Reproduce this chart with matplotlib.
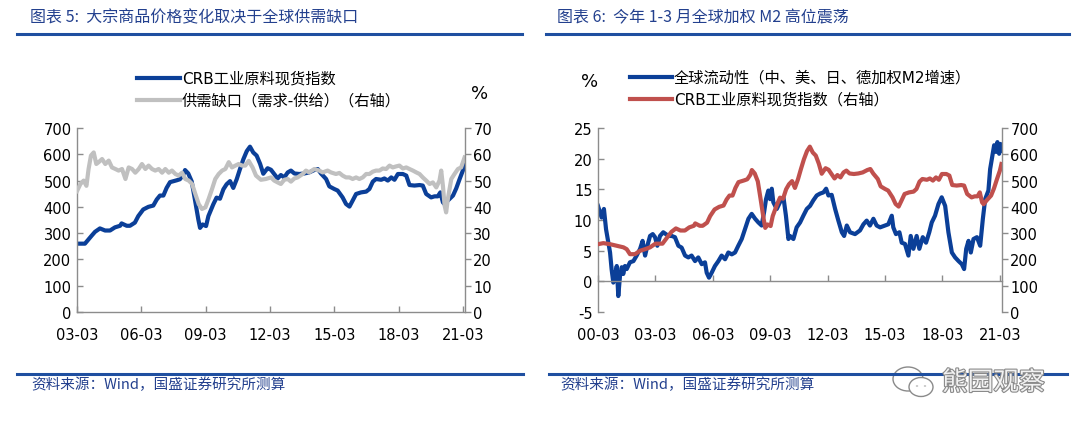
import matplotlib
matplotlib.use("Agg")
import matplotlib.pyplot as plt
import matplotlib.patheffects as pe
from matplotlib.patches import Ellipse, Circle

plt.rcParams['font.family'] = ['DejaVu Sans', 'Noto Sans CJK SC']
plt.rcParams['axes.unicode_minus'] = False

# ==============================
# DATA (decimal years)
# ==============================
crb_t = [2000.17, 2000.45, 2000.80, 2001.15, 2001.50, 2001.67, 2001.84, 2002.10, 2002.37, 2002.63, 2002.89,
         2003.17, 2003.54, 2003.85, 2004.01, 2004.24, 2004.48, 2004.71, 2004.94, 2005.18, 2005.25, 2005.49,
         2005.64, 2005.87, 2006.03, 2006.26, 2006.50, 2006.73, 2006.89, 2007.04, 2007.20, 2007.35, 2007.51,
         2007.82, 2007.97, 2008.13, 2008.21, 2008.36, 2008.52, 2008.67, 2008.83, 2008.91, 2009.03, 2009.19,
         2009.30, 2009.53, 2009.68, 2009.84, 2010.00, 2010.15, 2010.31, 2010.46, 2010.62, 2010.77, 2010.93,
         2011.09, 2011.24, 2011.39, 2011.55, 2011.71, 2011.86, 2012.06, 2012.22, 2012.37, 2012.53, 2012.68,
         2012.84, 2013.00, 2013.15, 2013.31, 2013.54, 2013.77, 2014.00, 2014.24, 2014.40, 2014.55, 2014.79,
         2014.94, 2015.17, 2015.33, 2015.56, 2015.72, 2015.88, 2016.03, 2016.19, 2016.42, 2016.66, 2016.81,
         2016.97, 2017.12, 2017.36, 2017.51, 2017.67, 2017.83, 2017.98, 2018.14, 2018.37, 2018.53, 2018.68,
         2018.91, 2019.15, 2019.30, 2019.46, 2019.69, 2019.85, 2020.00, 2020.12, 2020.24, 2020.32, 2020.47,
         2020.71, 2020.86, 2021.02, 2021.17, 2021.25]
crb_v = [258, 262, 258, 252, 246, 239, 220, 220, 233, 239, 246,
         260, 260, 290, 305, 318, 310, 310, 322, 328, 337, 328,
         328, 340, 365, 390, 400, 405, 428, 443, 443, 472, 494,
         501, 505, 522, 540, 527, 497, 428, 352, 320, 333, 327,
         365, 410, 435, 431, 467, 486, 498, 472, 505, 543, 581,
         612, 629, 607, 595, 564, 526, 547, 541, 525, 508, 521,
         512, 531, 538, 527, 525, 527, 531, 540, 544, 527, 506,
         478, 468, 462, 436, 411, 401, 424, 449, 455, 458, 468,
         496, 506, 503, 508, 500, 512, 503, 525, 525, 519, 483,
         481, 483, 481, 449, 436, 440, 440, 455, 417, 410, 424,
         443, 470, 506, 538, 563]

gap_t = [2003.17, 2003.33, 2003.48, 2003.61, 2003.71, 2003.82, 2003.95, 2004.07, 2004.18, 2004.34, 2004.49,
         2004.65, 2004.80, 2004.96, 2005.11, 2005.27, 2005.43, 2005.58, 2005.74, 2005.89, 2006.05, 2006.20,
         2006.36, 2006.51, 2006.67, 2006.82, 2006.98, 2007.14, 2007.29, 2007.45, 2007.60, 2007.76, 2007.91,
         2008.07, 2008.22, 2008.38, 2008.54, 2008.69, 2008.85, 2009.00, 2009.16, 2009.31, 2009.47, 2009.62,
         2009.78, 2009.94, 2010.09, 2010.25, 2010.40, 2010.56, 2010.71, 2010.87, 2011.02, 2011.18, 2011.36,
         2011.52, 2011.75, 2011.98, 2012.22, 2012.37, 2012.53, 2012.68, 2012.84, 2013.00, 2013.15, 2013.31,
         2013.46, 2013.70, 2013.85, 2014.00, 2014.24, 2014.47, 2014.63, 2014.86, 2015.02, 2015.25, 2015.41,
         2015.56, 2015.72, 2015.88, 2016.03, 2016.19, 2016.34, 2016.50, 2016.66, 2016.81, 2016.97, 2017.12,
         2017.28, 2017.43, 2017.59, 2017.75, 2017.90, 2018.06, 2018.21, 2018.37, 2018.53, 2018.68, 2018.84,
         2019.00, 2019.15, 2019.30, 2019.46, 2019.62, 2019.77, 2019.93, 2020.08, 2020.16, 2020.24, 2020.32,
         2020.39, 2020.47, 2020.63, 2020.78, 2020.94, 2021.09, 2021.25]
gap_v = [46.0, 48.7, 50.0, 48.0, 54.4, 59.5, 60.7, 56.3, 57.0, 58.2, 56.3,
         57.6, 55.0, 54.4, 53.8, 54.4, 50.6, 55.0, 54.4, 53.0, 54.4, 56.3,
         54.4, 55.7, 54.4, 53.8, 54.4, 53.0, 54.4, 53.0, 53.8, 52.5, 51.9,
         53.0, 50.6, 50.0, 48.7, 44.9, 41.0, 39.2, 39.8, 43.0, 46.8, 50.6,
         52.5, 53.8, 54.4, 57.0, 55.0, 55.7, 56.3, 55.7, 55.7, 57.5, 55.0,
         51.9, 50.3, 50.6, 51.2, 50.0, 49.3, 48.7, 50.3, 50.6, 49.6, 50.8,
         51.2, 52.5, 53.8, 53.1, 54.4, 53.8, 53.1, 53.8, 53.1, 52.5, 52.9,
         51.9, 51.2, 51.2, 50.6, 51.2, 50.6, 51.2, 52.5, 52.5, 53.4, 53.8,
         53.8, 54.6, 54.4, 55.7, 55.0, 55.4, 55.7, 54.6, 55.0, 54.4, 53.8,
         53.1, 52.5, 51.2, 50.0, 48.7, 49.3, 47.4, 50.0, 53.8, 48.0, 40.4,
         37.9, 43.0, 50.6, 52.5, 54.4, 55.0, 58.8]

m2_t = [2000.17, 2000.27, 2000.36, 2000.48, 2000.59, 2000.71, 2000.80, 2000.88, 2000.97, 2001.06, 2001.15,
        2001.23, 2001.32, 2001.41, 2001.49, 2001.58, 2001.67, 2001.84, 2002.02, 2002.19, 2002.37, 2002.50,
        2002.63, 2002.75, 2002.89, 2003.03, 2003.15, 2003.27, 2003.41, 2003.58, 2003.72, 2003.85, 2004.02,
        2004.19, 2004.37, 2004.54, 2004.72, 2004.89, 2005.06, 2005.24, 2005.41, 2005.59, 2005.76, 2005.85,
        2005.97, 2006.11, 2006.28, 2006.46, 2006.63, 2006.81, 2006.98, 2007.16, 2007.33, 2007.50, 2007.68,
        2007.85, 2008.03, 2008.20, 2008.38, 2008.55, 2008.72, 2008.85, 2008.95, 2009.07, 2009.16, 2009.25,
        2009.33, 2009.51, 2009.68, 2009.86, 2009.99, 2010.12, 2010.20, 2010.38, 2010.55, 2010.73, 2010.90,
        2011.08, 2011.25, 2011.42, 2011.60, 2011.77, 2011.95, 2012.09, 2012.21, 2012.38, 2012.56, 2012.73,
        2012.91, 2013.03, 2013.17, 2013.34, 2013.60, 2013.86, 2014.04, 2014.21, 2014.38, 2014.56, 2014.73,
        2014.91, 2015.17, 2015.34, 2015.52, 2015.60, 2015.74, 2015.92, 2016.04, 2016.21, 2016.39, 2016.51,
        2016.65, 2016.82, 2016.96, 2017.14, 2017.31, 2017.48, 2017.61, 2017.78, 2017.96, 2018.13, 2018.31,
        2018.48, 2018.66, 2018.83, 2019.01, 2019.18, 2019.30, 2019.41, 2019.53, 2019.65, 2019.79, 2019.97,
        2020.14, 2020.28, 2020.40, 2020.57, 2020.66, 2020.78, 2020.87, 2020.97, 2021.04, 2021.13, 2021.20,
        2021.27]
m2_v = [12.3, 11.3, 10.4, 11.8, 8.5, 6.3, 4.7, 2.0, -0.2, 0.9, 2.5,
        -2.4, 0.9, 2.3, 1.2, 2.5, 2.0, 3.1, 3.3, 4.2, 5.3, 6.6,
        4.2, 5.8, 7.4, 7.7, 7.2, 5.8, 7.4, 8.0, 7.7, 7.4, 7.4,
        7.2, 5.8, 5.5, 4.2, 3.9, 4.2, 3.3, 3.9, 2.8, 3.1, 1.4,
        0.6, 1.4, 2.5, 3.3, 4.2, 3.6, 4.7, 4.4, 4.7, 5.8, 6.9,
        8.5, 10.2, 11.0, 10.2, 9.6, 9.1, 11.3, 13.4, 14.8, 13.4, 15.1,
        12.9, 11.8, 12.9, 13.7, 10.7, 6.9, 7.4, 6.9, 8.8, 9.6, 10.7,
        11.8, 12.3, 13.2, 14.0, 14.3, 14.5, 15.1, 14.0, 14.1, 11.8, 9.9,
        8.0, 7.4, 9.1, 8.0, 7.7, 8.3, 9.3, 9.9, 9.1, 10.2, 9.1,
        8.8, 9.1, 9.3, 10.7, 8.8, 7.7, 8.0, 6.3, 6.1, 4.2, 7.4,
        5.3, 7.4, 5.3, 7.2, 6.3, 8.0, 9.6, 10.7, 12.6, 13.7, 12.3,
        8.0, 4.7, 3.9, 3.3, 2.8, 2.0, 5.3, 6.6, 4.7, 6.9, 7.2,
        5.8, 10.2, 13.4, 14.8, 18.3, 20.5, 22.2, 21.1, 22.7, 20.8, 22.4,
        21.3]

left_ticks = [2003.17, 2006.17, 2009.17, 2012.17, 2015.17, 2018.17, 2021.17]
left_labels = ["03-03", "06-03", "09-03", "12-03", "15-03", "18-03", "21-03"]
right_ticks = [2000.17, 2003.17, 2006.17, 2009.17, 2012.17, 2015.17, 2018.17, 2021.17]
right_labels = ["00-03", "03-03", "06-03", "09-03", "12-03", "15-03", "18-03", "21-03"]

title_left = "图表 5:  大宗商品价格变化取决于全球供需缺口"
title_right = "图表 6:  今年 1-3 月全球加权 M2 高位震荡"
source_text = "资料来源：Wind，国盛证券研究所测算"
leg_left = ["CRB工业原料现货指数", "供需缺口（需求-供给）（右轴）"]
leg_right = ["全球流动性（中、美、日、德加权M2增速）", "CRB工业原料现货指数（右轴）"]

# ==============================
# STYLE
# ==============================
BLUE = "#0B3F98"
GRAY = "#C0C0C0"
RED = "#C0504D"
NAVY = "#23408E"
RULE = "#1F4FA0"
SPINE = "#8C8C8C"
W, H = 1080, 435


def fx(px):
    return px / W


def fy(py):
    return 1 - py / H


def style_axis(ax):
    for s in ax.spines.values():
        s.set_color(SPINE)
        s.set_linewidth(1.0)
    ax.spines['top'].set_visible(False)
    ax.tick_params(axis='both', colors=SPINE, labelcolor='black', labelsize=10.5,
                   length=4, width=1.0)


fig = plt.figure(figsize=(10.8, 4.35), dpi=100)

# ==============================
# LEFT CHART
# ==============================
ax1 = fig.add_axes([fx(77), fy(313), fx(465 - 77), (313 - 129) / H])
ax1b = ax1.twinx()
ax1.plot(crb_t, crb_v, color=BLUE, lw=3.0, solid_joinstyle='round')
ax1b.plot(gap_t, gap_v, color=GRAY, lw=3.0, solid_joinstyle='round')
ax1.set_xlim(2003.17, 2021.27)
ax1.set_ylim(0, 700)
ax1b.set_ylim(0, 70)
ax1.set_yticks(range(0, 701, 100))
ax1b.set_yticks(range(0, 71, 10))
ax1.set_xticks(left_ticks)
ax1.set_xticklabels(left_labels)
for a in (ax1, ax1b):
    style_axis(a)
ax1.spines['right'].set_visible(False)
ax1b.spines['left'].set_visible(False)
ax1b.spines['bottom'].set_visible(False)
ax1.tick_params(axis='y', direction='in', pad=4)
ax1b.tick_params(axis='y', direction='out', pad=2)
ax1.tick_params(axis='x', direction='in', pad=11)

# ==============================
# RIGHT CHART
# ==============================
ax2 = fig.add_axes([fx(598), fy(313), fx(1002 - 598), (313 - 129) / H])
ax2b = ax2.twinx()
ax2.plot(m2_t, m2_v, color=BLUE, lw=3.0, solid_joinstyle='round')
ax2b.plot(crb_t, crb_v, color=RED, lw=3.0, solid_joinstyle='round')
ax2.set_xlim(2000.17, 2021.28)
ax2.set_ylim(-5, 25)
ax2b.set_ylim(0, 700)
ax2.set_yticks(range(-5, 26, 5))
ax2b.set_yticks(range(0, 701, 100))
ax2.set_xticks(right_ticks)
ax2.set_xticklabels(right_labels)
for a in (ax2, ax2b):
    style_axis(a)
ax2.spines['right'].set_visible(False)
ax2b.spines['left'].set_visible(False)
ax2b.spines['bottom'].set_visible(False)
ax2.spines['bottom'].set_position(('data', 0))
ax2.tick_params(axis='y', direction='in', pad=4)
ax2b.tick_params(axis='y', direction='out', pad=2)
ax2.tick_params(axis='x', direction='in', pad=33)

# ==============================
# TEXT, LEGENDS, RULES
# ==============================
fig.text(fx(30), fy(18), title_left, color=NAVY, fontsize=11.5, va='center', ha='left',
         family=['Noto Sans CJK SC'])
fig.text(fx(557), fy(18), title_right, color=NAVY, fontsize=11.5, va='center', ha='left',
         family=['Noto Sans CJK SC'])

for x0, x1, y in [(17, 522, 35), (546, 1069, 35), (17, 523, 375), (549, 1067, 375)]:
    fig.add_artist(plt.Line2D([fx(x0), fx(x1)], [fy(y), fy(y)], color=RULE, lw=2.2,
                              transform=fig.transFigure))

fig.text(fx(31), fy(385), source_text, color=NAVY, fontsize=10.5, va='center', ha='left',
         family=['Noto Sans CJK SC'])
fig.text(fx(560), fy(385), source_text, color=NAVY, fontsize=10.5, va='center', ha='left',
         family=['Noto Sans CJK SC'])

# left legend
for (y, c, lab) in [(79, BLUE, leg_left[0]), (101, GRAY, leg_left[1])]:
    fig.add_artist(plt.Line2D([fx(137), fx(180)], [fy(y), fy(y)], color=c, lw=3.0,
                              transform=fig.transFigure))
    fig.text(fx(182), fy(y), lab, fontsize=11, va='center', ha='left')
fig.text(fx(480), fy(94), "%", fontsize=13, va='center', ha='center')

# right legend
for (y, c, lab) in [(78, BLUE, leg_right[0]), (100, RED, leg_right[1])]:
    fig.add_artist(plt.Line2D([fx(630), fx(672)], [fy(y), fy(y)], color=c, lw=3.0,
                              transform=fig.transFigure))
    fig.text(fx(674), fy(y), lab, fontsize=11, va='center', ha='left')
fig.text(fx(590), fy(82), "%", fontsize=13, va='center', ha='center')

# watermark
ic = '#8a8a8a'
fig.add_artist(Ellipse((fx(908), fy(380)), fx(30), 24 / H, facecolor='white',
                       edgecolor=ic, lw=1.0, transform=fig.transFigure))
fig.add_artist(Ellipse((fx(921), fy(388)), fx(24), 19 / H, facecolor='white',
                       edgecolor=ic, lw=1.0, transform=fig.transFigure))
for ex, ey in [(917, 387), (925, 387)]:
    fig.add_artist(Circle((fx(ex), fy(ey)), 1.2 / W, facecolor=ic, edgecolor='none',
                          transform=fig.transFigure))
wm = fig.text(fx(942), fy(384), "熊园观察", fontsize=18.5, color='#f2f2f2', va='center', ha='left',
              family=['Noto Sans CJK SC'])
wm.set_path_effects([pe.withStroke(linewidth=1.6, foreground='#8a8a8a')])

fig.savefig("out.png", dpi=100)
